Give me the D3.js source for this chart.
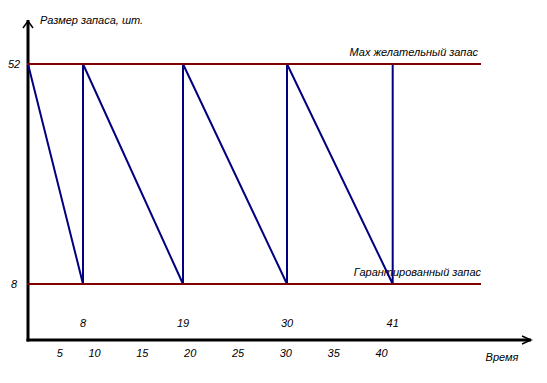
<!DOCTYPE html>
<html>
<head>
<meta charset="utf-8">
<script src="https://cdn.jsdelivr.net/npm/d3@7"></script>
<style>
  html, body { margin: 0; padding: 0; background: #fff; }
  svg { display: block; }
  text { font-family: Arial, "Liberation Sans", sans-serif; font-style: italic; font-size: 11px; fill: #000; }
</style>
</head>
<body>
<svg id="chart" width="547" height="383"></svg>
<script>
// ---- data ----
const times = [0, 8, 8, 19, 19, 30, 30, 41, 41];
const stock = [52, 8, 52, 8, 52, 8, 52, 8, 52];
const levels = [52, 8];
const levelNames = ["Мах желательный запас", "Гарантированный запас"];
const orderTimes = [8, 19, 30, 41];
const timeTicks = [5, 10, 15, 20, 25, 30, 35, 40];
const yTitle = "Размер запаса, шт.";
const xTitle = "Время";

// ---- layout ----
const W = 547, H = 383;
const axisX = 28, axisY = 340, axisTop = 20, axisRight = 531;
const levelRight = 481;

const svg = d3.select("#chart");
svg.append("rect").attr("width", W).attr("height", H).attr("fill", "#fff");

const x = d3.scaleLinear().domain([0, 8, 19, 30, 41]).range([axisX, 83, 183, 287, 392.7]);
const xt = d3.scaleLinear().domain([5, 10, 40]).range([59.3, 94, 381]);
const y = d3.scaleLinear().domain([8, 52]).range([284, 64]);

// axes lines
const g = svg.append("g");
g.append("line").attr("x1", axisX).attr("x2", axisX).attr("y1", axisTop).attr("y2", axisY + 1.5)
  .attr("stroke", "#000").attr("stroke-width", 3);
g.append("line").attr("x1", axisX - 1.5).attr("x2", axisRight).attr("y1", axisY).attr("y2", axisY)
  .attr("stroke", "#000").attr("stroke-width", 3);
// arrowheads
g.append("path").attr("d", `M${axisX - 5},${axisTop + 8} L${axisX},${axisTop + 1} L${axisX + 5},${axisTop + 8}`)
  .attr("fill", "none").attr("stroke", "#000").attr("stroke-width", 1.5);
g.append("path").attr("d", `M${axisRight - 9},${axisY - 4} L${axisRight},${axisY} L${axisRight - 9},${axisY + 4}`)
  .attr("fill", "none").attr("stroke", "#000").attr("stroke-width", 1.5);

// y tick labels
const yAxis = d3.axisLeft(y).tickValues(levels).tickSize(0).tickPadding(0).tickFormat(d3.format("d"));
const ya = svg.append("g").attr("transform", "translate(14,0)").call(yAxis);
ya.select(".domain").remove();
ya.selectAll("text").attr("text-anchor", "middle").attr("x", 0)
  .style("font-family", "Arial, 'Liberation Sans', sans-serif").style("font-size", "11px").style("font-style", "italic");

// bottom time tick labels
const xAxis = d3.axisBottom(xt).tickValues(timeTicks).tickSize(0).tickPadding(0).tickFormat(d3.format("d"));
const xa = svg.append("g").attr("transform", "translate(0,353)").call(xAxis);
xa.select(".domain").remove();
xa.selectAll("text").attr("y", 0).attr("dy", "0.35em")
  .style("font-family", "Arial, 'Liberation Sans', sans-serif").style("font-size", "11px").style("font-style", "italic");

// order time labels
svg.append("g").selectAll("text").data(orderTimes).join("text")
  .attr("x", d => x(d)).attr("y", 323).attr("dy", "0.35em").attr("text-anchor", "middle").text(d => d);

// titles
svg.append("text").attr("x", 40).attr("y", 20).attr("dy", "0.35em").text(yTitle);
svg.append("text").attr("x", 502).attr("y", 357).attr("dy", "0.35em").attr("text-anchor", "middle").text(xTitle);

// level labels
svg.append("g").selectAll("text").data(levels).join("text")
  .attr("x", (d, i) => i === 0 ? 478 : levelRight)
  .attr("y", d => y(d) - 11.5).attr("dy", "0.35em").attr("text-anchor", "end")
  .text((d, i) => levelNames[i]);

// sawtooth stock line
const pts = times.map((t, i) => [t, stock[i]]);
svg.append("path").datum(pts)
  .attr("d", d3.line().x(d => x(d[0])).y(d => y(d[1])))
  .attr("fill", "none").attr("stroke", "#000080").attr("stroke-width", 2).attr("stroke-linejoin", "miter");

// level lines
svg.append("g").selectAll("line").data(levels).join("line")
  .attr("x1", axisX - 1).attr("x2", levelRight).attr("y1", d => y(d)).attr("y2", d => y(d))
  .attr("stroke", "#800000").attr("stroke-width", 2.2);
</script>
</body>
</html>
